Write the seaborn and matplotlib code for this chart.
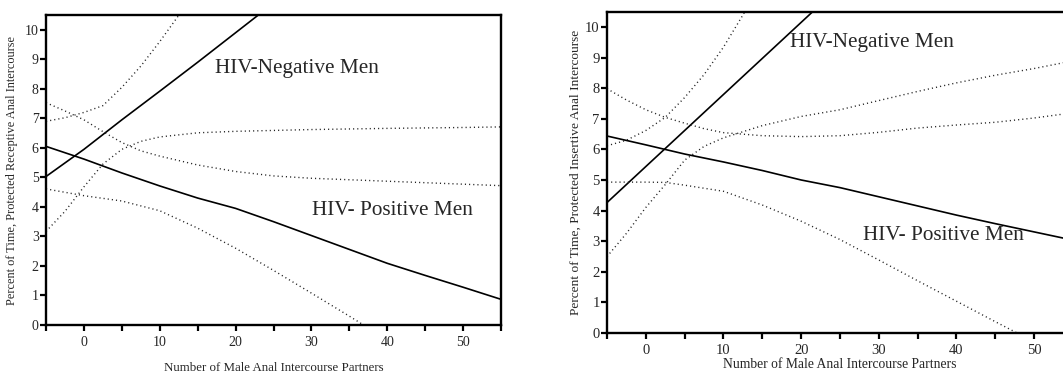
import numpy as np
import pandas as pd
import matplotlib

matplotlib.use("Agg")
import matplotlib.pyplot as plt
import seaborn as sns

# ---- left panel: receptive anal intercourse ----
rec_neg_x = [-5, 0, 5, 10, 15, 20, 25]
rec_neg_fit = [5.03, 5.95, 6.95, 7.92, 8.9, 9.9, 10.9]
rec_neg_up_x = [-5, -2.5, 0, 2.5, 5, 7.5, 10, 12.5, 15]
rec_neg_up = [6.9, 7.02, 7.2, 7.43, 8.05, 8.77, 9.6, 10.49, 11.4]
rec_neg_lo_x = [-5, -2.5, 0, 2.5, 5, 7.5, 10, 15, 20, 30, 40, 50, 55]
rec_neg_lo = [3.17, 3.85, 4.68, 5.45, 5.95, 6.22, 6.37, 6.51, 6.56, 6.62, 6.66, 6.69, 6.71]

rec_pos_x = [-5, 0, 5, 10, 15, 20, 25, 30, 35, 40, 45, 50, 55]
rec_pos_fit = [6.05, 5.62, 5.15, 4.71, 4.3, 3.95, 3.5, 3.03, 2.56, 2.09, 1.68, 1.28, 0.87]
rec_pos_up_x = [-5, -2.5, 0, 2.5, 5, 7.5, 10, 15, 20, 25, 30, 40, 50, 55]
rec_pos_up = [7.53, 7.25, 6.95, 6.55, 6.18, 5.9, 5.72, 5.42, 5.2, 5.05, 4.97, 4.87, 4.77, 4.72]
rec_pos_lo_x = [-5, 0, 5, 10, 15, 20, 25, 30, 35, 40]
rec_pos_lo = [4.61, 4.38, 4.2, 3.87, 3.28, 2.6, 1.85, 1.08, 0.3, -0.5]

# ---- right panel: insertive anal intercourse ----
ins_neg_x = [-5, 0, 5, 10, 15, 20, 25]
ins_neg_fit = [4.26, 5.44, 6.62, 7.8, 8.98, 10.16, 11.34]
ins_neg_up_x = [-5, -2.5, 0, 2.5, 5, 7.5, 10, 12.5, 15]
ins_neg_up = [6.12, 6.3, 6.62, 7.05, 7.7, 8.45, 9.35, 10.4, 11.5]
ins_neg_lo_x = [-5, -2.5, 0, 2.5, 5, 7.5, 10, 15, 20, 25, 30, 35, 40, 45, 50, 55]
ins_neg_lo = [2.49, 3.25, 4.1, 4.85, 5.65, 6.1, 6.38, 6.78, 7.08, 7.3, 7.6, 7.9, 8.18, 8.43, 8.65, 8.9]

ins_pos_x = [-5, 0, 5, 10, 15, 20, 25, 30, 35, 40, 45, 50, 55]
ins_pos_fit = [6.44, 6.15, 5.85, 5.59, 5.31, 5.0, 4.75, 4.45, 4.15, 3.85, 3.57, 3.3, 3.03]
ins_pos_up_x = [-5, -2.5, 0, 2.5, 5, 7.5, 10, 15, 20, 25, 30, 35, 40, 45, 50, 55]
ins_pos_up = [7.99, 7.62, 7.3, 7.05, 6.86, 6.68, 6.55, 6.45, 6.42, 6.45, 6.56, 6.7, 6.8, 6.89, 7.03, 7.2]
ins_pos_lo_x = [-5, 0, 2.5, 5, 10, 15, 20, 25, 30, 35, 40, 45, 50]
ins_pos_lo = [4.93, 4.93, 4.92, 4.83, 4.63, 4.18, 3.65, 3.05, 2.38, 1.7, 1.03, 0.36, -0.3]

x_ticks = [0, 10, 20, 30, 40, 50]
x_minor = [-5, 5, 15, 25, 35, 45, 55]
y_ticks = list(range(0, 11))

sns.set_style("ticks")
plt.rcParams["font.family"] = ["Liberation Serif", "DejaVu Serif"]

fig = plt.figure(figsize=(10.63, 3.75), dpi=100)
ax_l = fig.add_axes([0.0433, 0.1333, 0.4280, 0.8267])
ax_r = fig.add_axes([0.5710, 0.1128, 0.4384, 0.8552])

DOT = (0, (0.8, 2.2))


def draw(ax, x, y, dotted=False):
    df = pd.DataFrame({"x": x, "y": y})
    if dotted:
        sns.lineplot(data=df, x="x", y="y", ax=ax, color="#222222", lw=1.0,
                     linestyle=DOT, sort=False, estimator=None)
    else:
        sns.lineplot(data=df, x="x", y="y", ax=ax, color="black", lw=1.2,
                     sort=False, estimator=None)


panels = [
    (ax_l, [(rec_neg_x, rec_neg_fit, False), (rec_neg_up_x, rec_neg_up, True),
            (rec_neg_lo_x, rec_neg_lo, True), (rec_pos_x, rec_pos_fit, False),
            (rec_pos_up_x, rec_pos_up, True), (rec_pos_lo_x, rec_pos_lo, True)]),
    (ax_r, [(ins_neg_x, ins_neg_fit, False), (ins_neg_up_x, ins_neg_up, True),
            (ins_neg_lo_x, ins_neg_lo, True), (ins_pos_x, ins_pos_fit, False),
            (ins_pos_up_x, ins_pos_up, True), (ins_pos_lo_x, ins_pos_lo, True)]),
]

for ax, series in panels:
    for x, y, dotted in series:
        draw(ax, x, y, dotted)
    ax.set_xlim(-5, 55)
    ax.set_ylim(0, 10.5)
    ax.set_xticks(x_ticks)
    ax.set_xticks(x_minor, minor=True)
    ax.set_yticks(y_ticks)
    ax.tick_params(axis="both", which="both", direction="out", width=1.6,
                   length=4.3, color="black")
    ax.tick_params(axis="x", pad=3.5)
    ax.tick_params(axis="y", pad=1)
    for side in ["top", "bottom", "left", "right"]:
        ax.spines[side].set_visible(True)
        ax.spines[side].set_linewidth(1.7)
        ax.spines[side].set_color("black")

ax_l.tick_params(labelsize=10)
ax_r.tick_params(labelsize=10.5)

ax_l.set_xlabel("Number of Male Anal Intercourse Partners", fontsize=9.3)
ax_l.set_ylabel("Percent of Time, Protected Receptive Anal Intercourse", fontsize=8.8)
ax_l.xaxis.set_label_coords(0.5, -0.118)
ax_l.yaxis.set_label_coords(-0.062, 0.5)

ax_r.set_xlabel("Number of Male Anal Intercourse Partners", fontsize=9.8)
ax_r.set_ylabel("Percent of Time, Protected Insertive Anal Intercourse", fontsize=9.6)
ax_r.xaxis.set_label_coords(0.5, -0.080)
ax_r.yaxis.set_label_coords(-0.054, 0.5)

ax_l.text(17.3, 8.68, "HIV-Negative Men", fontsize=15.3, ha="left", va="center")
ax_l.text(30.1, 3.87, "HIV- Positive Men", fontsize=15.3, ha="left", va="center")
ax_r.text(18.6, 9.49, "HIV-Negative Men", fontsize=15.3, ha="left", va="center")
ax_r.text(27.9, 3.17, "HIV- Positive Men", fontsize=15.3, ha="left", va="center")

fig.savefig("out.png", dpi=100)
plt.close(fig)
